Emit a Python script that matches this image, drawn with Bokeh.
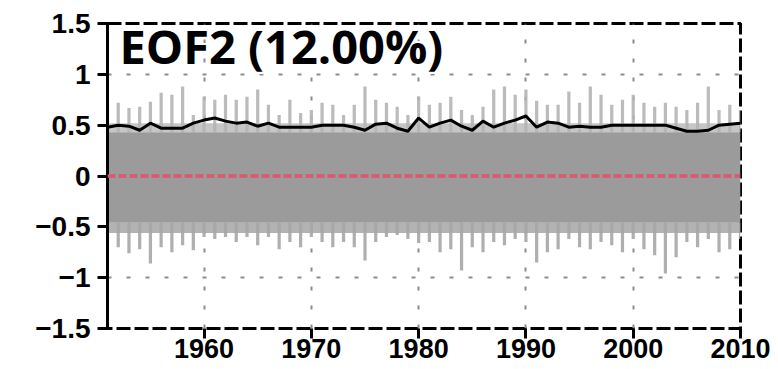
from bokeh.plotting import figure
from bokeh.models import Range1d, Span, Label, FixedTicker
from bokeh.embed import file_html
from bokeh.resources import INLINE

# ---------------- data ----------------
YEARS = list(range(1951, 2011))
X_TICKS = [1960, 1970, 1980, 1990, 2000, 2010]
Y_TICKS = [-1.5, -1, -0.5, 0, 0.5, 1, 1.5]
Y_TICK_LABELS = {-1.5: "\u22121.5", -1: "\u22121", -0.5: "\u22120.5", 0: "0",
                 0.5: "0.5", 1: "1", 1.5: "1.5"}
TITLE = "EOF2 (12.00%)"

# ensemble mean (black line)
MEAN = [0.48, 0.50, 0.49, 0.45, 0.52, 0.47, 0.47, 0.47, 0.52, 0.55,
        0.57, 0.54, 0.52, 0.53, 0.49, 0.52, 0.48, 0.48, 0.48, 0.48,
        0.50, 0.50, 0.50, 0.48, 0.45, 0.51, 0.52, 0.47, 0.44, 0.57,
        0.48, 0.52, 0.55, 0.49, 0.45, 0.54, 0.48, 0.52, 0.55, 0.59,
        0.48, 0.53, 0.52, 0.48, 0.49, 0.48, 0.48, 0.50, 0.50, 0.50,
        0.50, 0.50, 0.50, 0.47, 0.44, 0.44, 0.45, 0.50, 0.51, 0.52]

# ensemble upper envelope (grey spikes)
UPPER = [0.70, 0.72, 0.67, 0.68, 0.73, 0.82, 0.80, 0.88, 0.60, 0.78,
         0.75, 0.80, 0.75, 0.78, 0.85, 0.70, 0.60, 0.75, 0.62, 0.65,
         0.72, 0.70, 0.60, 0.70, 0.88, 0.75, 0.72, 0.68, 0.60, 0.78,
         0.70, 0.72, 0.78, 0.65, 0.60, 0.68, 0.85, 0.88, 0.80, 0.85,
         0.74, 0.70, 0.70, 0.83, 0.72, 0.88, 0.80, 0.70, 0.75, 0.80,
         0.72, 0.68, 0.72, 0.68, 0.65, 0.72, 0.88, 0.65, 0.70, 0.65]

# ensemble lower envelope (grey spikes)
LOWER = [-0.62, -0.70, -0.76, -0.72, -0.86, -0.70, -0.75, -0.68, -0.73, -0.60,
         -0.62, -0.60, -0.65, -0.60, -0.68, -0.60, -0.72, -0.65, -0.70, -0.60,
         -0.65, -0.70, -0.65, -0.70, -0.83, -0.65, -0.60, -0.58, -0.62, -0.66,
         -0.65, -0.75, -0.72, -0.93, -0.70, -0.75, -0.65, -0.68, -0.62, -0.65,
         -0.85, -0.75, -0.72, -0.62, -0.70, -0.72, -0.65, -0.68, -0.75, -0.62,
         -0.72, -0.78, -0.96, -0.80, -0.65, -0.70, -0.62, -0.75, -0.72, -0.62]

CORE_TOP = 0.43        # dense part of the ensemble
CORE_BOTTOM = -0.46
FRINGE_TOP = 0.52      # semi-dense fringe
FRINGE_BOTTOM = -0.56
ZERO_LEVEL = 0.0

X_START, X_END = 1951, 2010
Y_START, Y_END = -1.5, 1.5

# ---------------- figure ----------------
p = figure(width=778, height=369, output_backend="svg", toolbar_location=None,
           x_range=Range1d(X_START, X_END), y_range=Range1d(Y_START, Y_END),
           min_border_left=107, min_border_right=38, min_border_top=23,
           min_border_bottom=41)
p.background_fill_color = "white"
p.border_fill_color = "white"
p.outline_line_color = "black"
p.outline_line_width = 3
p.outline_line_dash = "14 4"

# grid
p.xgrid.ticker = FixedTicker(ticks=X_TICKS)
p.ygrid.ticker = FixedTicker(ticks=Y_TICKS)
for g in (p.xgrid, p.ygrid):
    g.grid_line_color = "#8c8c8c"
    g.grid_line_width = 2
    g.grid_line_dash = "4 15"

# axes
ya = p.yaxis[0]
ya.ticker = FixedTicker(ticks=Y_TICKS)
ya.major_label_overrides = Y_TICK_LABELS
ya.axis_line_width = 3
ya.axis_line_color = "black"
ya.major_tick_line_width = 3
ya.major_tick_out = 10
ya.major_tick_in = 0
ya.minor_tick_line_color = None
ya.major_label_standoff = 7
ya.major_label_text_font = "Liberation Sans"
ya.major_label_text_font_style = "bold"
ya.major_label_text_font_size = "28px"
ya.major_label_text_color = "black"

xa = p.xaxis[0]
xa.ticker = FixedTicker(ticks=X_TICKS)
xa.axis_line_color = None
xa.major_tick_line_width = 3
xa.major_tick_out = 10
xa.major_tick_in = 0
xa.minor_tick_line_color = None
xa.major_label_standoff = 0
xa.major_label_text_font = "Liberation Sans"
xa.major_label_text_font_style = "bold"
xa.major_label_text_font_size = "27px"
xa.major_label_text_color = "black"

# ensemble: dense core, fringe and spikes
n = len(YEARS)
p.varea(x=YEARS, y1=[CORE_TOP] * n, y2=[FRINGE_TOP] * n,
        fill_color="#c6c6c6")
p.varea(x=YEARS, y1=[FRINGE_BOTTOM] * n, y2=[CORE_BOTTOM] * n,
        fill_color="#b3b3b3")
p.vbar(x=YEARS, bottom=CORE_TOP, top=UPPER, width=0.3,
       fill_color="#b4b4b4", line_color=None, fill_alpha=0.9)
p.vbar(x=YEARS, bottom=LOWER, top=CORE_BOTTOM, width=0.3,
       fill_color="#a6a6a6", line_color=None, fill_alpha=0.9)
p.varea(x=YEARS, y1=[CORE_BOTTOM] * n, y2=[CORE_TOP] * n,
        fill_color="#9b9b9b")

# zero line
p.add_layout(Span(location=ZERO_LEVEL, dimension="width", line_color="#e0566c",
                  line_width=3.5, line_dash="8 3"))

# ensemble mean
p.line(YEARS, MEAN, line_color="black", line_width=3)

# title with white halo
for dx, dy in [(-2, 0), (2, 0), (0, -2), (0, 2), (-2, -2), (2, 2), (-2, 2), (2, -2)]:
    p.add_layout(Label(x=X_START, y=Y_END, text=TITLE, x_offset=12 + dx,
                       y_offset=10 + dy, text_baseline="top",
                       text_font="Open Sans", text_font_style="bold",
                       text_font_size="47px", text_color="white"))
p.add_layout(Label(x=X_START, y=Y_END, text=TITLE, x_offset=12, y_offset=10,
                   text_baseline="top", text_font="Open Sans",
                   text_font_style="bold", text_font_size="47px",
                   text_color="black"))

open("out.html", "w").write(file_html(p, INLINE))
